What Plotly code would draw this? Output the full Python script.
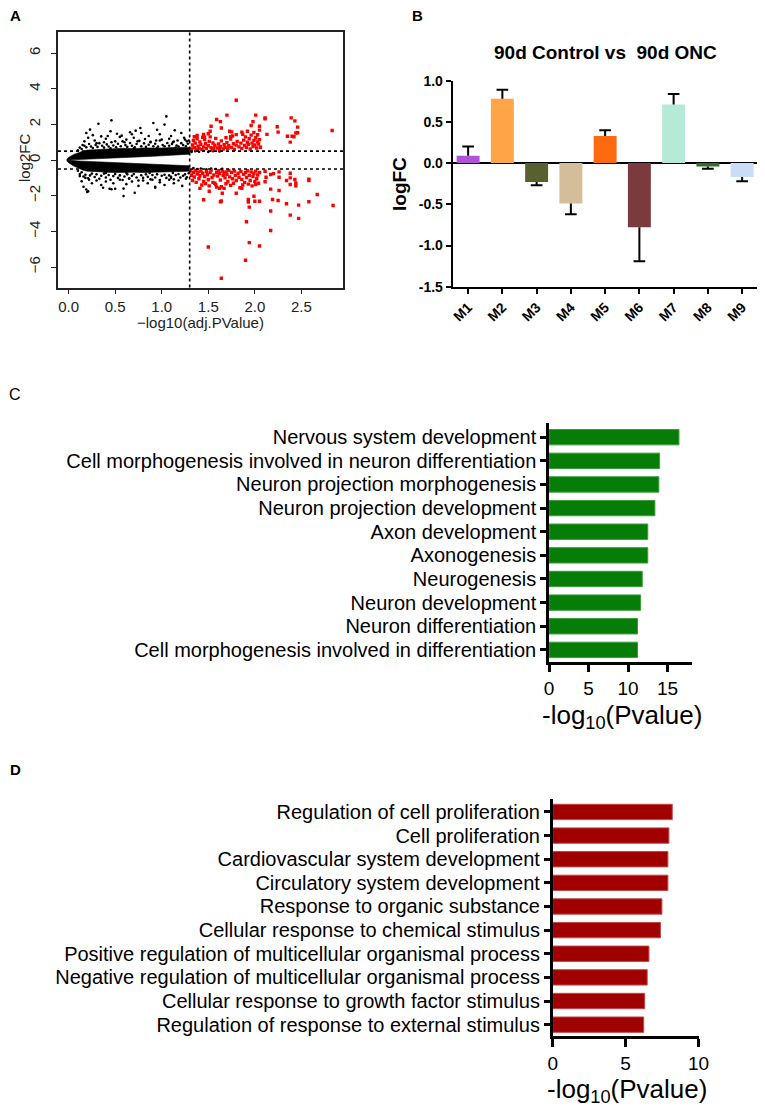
import plotly.graph_objects as go

W, H = 765, 1110
OFF = 8  # the page body keeps its default 8px margin

# ---------------- panel A : volcano plot ----------------
# dense core of the cloud (edges), x = -log10(adj.P)
core_x = [-0.02, 0.00, 0.05, 0.10, 0.15, 0.20, 0.30, 0.40, 0.50, 0.60, 0.70, 0.80, 0.90, 1.00, 1.10, 1.20, 1.30]
core_up_outer = [0.04, 0.15, 0.30, 0.42, 0.50, 0.56, 0.60, 0.62, 0.64, 0.66, 0.64, 0.68, 0.66, 0.68, 0.70, 0.70, 0.70]
core_up_inner = [0.00, 0.00, 0.03, 0.05, 0.06, 0.07, 0.09, 0.11, 0.13, 0.15, 0.17, 0.19, 0.21, 0.23, 0.26, 0.29, 0.33]
core_lo_inner = [0.00, 0.00, -0.03, -0.05, -0.06, -0.07, -0.09, -0.10, -0.12, -0.14, -0.16, -0.18, -0.20, -0.22, -0.25, -0.28, -0.32]
core_lo_outer = [-0.04, -0.15, -0.32, -0.46, -0.56, -0.62, -0.66, -0.68, -0.70, -0.70, -0.68, -0.70, -0.68, -0.68, -0.66, -0.64, -0.62]

# not significant genes outside the dense core
black_pts = [
    (0.10, 0.55), (0.12, 0.70), (0.14, 0.62), (0.17, 0.80), (0.19, 0.72), (0.22, 0.90), (0.24, 0.76),
    (0.26, 0.68), (0.29, 0.85), (0.31, 0.74), (0.33, 0.95), (0.36, 0.80), (0.38, 0.70), (0.41, 0.88),
    (0.43, 0.76), (0.46, 1.00), (0.48, 0.82), (0.51, 0.72), (0.53, 0.92), (0.56, 0.78), (0.58, 1.05),
    (0.61, 0.84), (0.63, 0.74), (0.66, 0.96), (0.68, 0.80), (0.71, 0.72), (0.73, 0.90), (0.76, 1.08),
    (0.78, 0.78), (0.81, 0.94), (0.83, 0.74), (0.86, 0.86), (0.88, 1.02), (0.91, 0.78), (0.93, 0.92),
    (0.96, 0.76), (0.98, 1.10), (1.01, 0.84), (1.03, 0.78), (1.06, 0.96), (1.08, 0.80), (1.11, 0.90),
    (1.13, 1.04), (1.16, 0.82), (1.18, 0.76), (1.21, 0.95), (1.23, 0.84), (1.26, 0.78), (1.28, 0.92),
    (1.29, 1.10), (1.25, 1.15), (0.45, 0.66), (0.70, 0.66), (0.95, 0.68), (1.15, 0.70),
    (0.10, -0.60), (0.12, -0.78), (0.14, -0.68), (0.16, -0.92), (0.18, -0.82), (0.21, -1.02), (0.23, -0.86),
    (0.25, -0.76), (0.28, -0.95), (0.30, -0.80), (0.33, -1.05), (0.35, -0.88), (0.38, -0.76), (0.40, -0.98),
    (0.43, -0.84), (0.45, -1.10), (0.48, -0.90), (0.50, -0.78), (0.53, -1.00), (0.55, -0.86), (0.58, -1.12),
    (0.60, -0.92), (0.63, -0.80), (0.65, -1.02), (0.68, -0.88), (0.70, -0.78), (0.73, -0.98), (0.75, -1.15),
    (0.78, -0.85), (0.80, -1.00), (0.83, -0.80), (0.85, -0.94), (0.88, -1.08), (0.90, -0.84), (0.93, -0.98),
    (0.95, -0.80), (0.98, -1.12), (1.00, -0.88), (1.03, -0.82), (1.05, -1.00), (1.08, -0.86), (1.10, -0.94),
    (1.13, -1.08), (1.15, -0.84), (1.18, -0.78), (1.20, -0.98), (1.23, -0.88), (1.25, -0.80), (1.27, -0.96),
    (1.29, -0.74), (0.40, -0.72), (0.62, -0.72), (0.87, -0.72), (1.12, -0.72),
    # sparse outliers
    (0.19, 1.52), (0.23, 1.71), (0.32, 2.04), (0.46, 2.23), (0.35, 1.33), (0.21, 1.25), (0.26, 1.40),
    (0.28, 1.10), (0.40, 1.20), (0.45, 1.62), (0.50, 1.05), (0.55, 1.30), (0.57, 1.37), (0.62, 1.15),
    (0.66, 1.56), (0.70, 1.25), (0.74, 1.05), (0.77, 1.80), (0.78, 1.52), (0.82, 1.18), (0.86, 1.35),
    (0.91, 2.08), (0.94, 1.10), (0.98, 1.45), (1.03, 1.99), (1.05, 2.45), (1.08, 1.20), (1.10, 1.35),
    (1.14, 1.67), (1.17, 1.10), (1.21, 1.52), (1.24, 1.25), (1.27, 1.05), (1.12, 1.00), (0.60, 1.00),
    (0.38, 1.00), (0.30, 0.95), (0.17, 1.05), (0.15, 0.85), (0.88, 1.00), (1.00, 1.15), (0.68, 1.45),
    (0.52, 1.48), (0.42, 1.35), (0.95, 1.70), (0.72, 1.65),
    (0.14, -1.19), (0.16, -1.50), (0.19, -1.65), (0.21, -1.75), (0.20, -1.79), (0.44, -1.61), (0.46, -1.64),
    (0.50, -1.61), (0.59, -2.02), (0.59, -1.60), (0.71, -1.83), (0.93, -1.50), (0.93, -1.55), (0.25, -1.30),
    (0.30, -1.15), (0.35, -1.40), (0.40, -1.20), (0.48, -1.30), (0.55, -1.10), (0.62, -1.35), (0.68, -1.20),
    (0.75, -1.45), (0.80, -1.15), (0.85, -1.30), (0.90, -1.10), (0.98, -1.25), (1.03, -1.40), (1.08, -1.10),
    (1.13, -1.30), (1.18, -1.15), (1.22, -1.45), (1.26, -1.05), (0.18, -1.00), (0.22, -1.10), (0.12, -0.90),
    (0.65, -1.05), (1.10, -1.00), (0.37, -1.55),
    # significant p but small fold change, hugging the dotted lines
    (1.32, 0.45), (1.36, 0.50), (1.40, 0.47), (1.45, 0.52), (1.50, 0.46), (1.55, 0.50), (1.62, 0.48),
    (1.34, -0.45), (1.38, -0.50), (1.42, -0.47), (1.48, -0.52), (1.53, -0.48), (1.58, -0.50), (1.65, -0.49),
]

# differentially expressed genes
red_pts = [
    (1.80, 3.36), (1.70, 2.52), (1.59, 2.28), (1.63, 2.16), (2.01, 2.52), (2.11, 2.37), (2.39, 2.37),
    (2.43, 2.20), (2.24, 1.87), (2.25, 1.57), (2.46, 1.85), (2.46, 1.53), (2.35, 1.34), (2.40, 1.34),
    (2.42, 1.31), (2.38, 1.01), (2.83, 1.66), (2.13, 1.44), (1.98, 2.16), (1.96, 1.94), (2.05, 1.90),
    (2.05, 1.68), (1.92, 1.62), (1.86, 1.57), (1.73, 1.62), (1.74, 1.31), (1.53, 1.90), (1.45, 1.44),
    (1.38, 1.38), (1.35, 1.31), (1.52, 1.62), (1.64, 1.80), (1.50, 1.48), (1.46, 1.28), (1.75, 1.58),
    (1.80, 1.43), (2.11, 2.32), (2.44, 1.52),
    (1.32, 0.62), (1.33, 0.85), (1.34, 1.10), (1.35, 0.70), (1.36, 0.95), (1.37, 0.58), (1.38, 1.20),
    (1.39, 0.78), (1.40, 0.66), (1.41, 1.02), (1.42, 0.88), (1.43, 0.60), (1.45, 0.74), (1.46, 1.15),
    (1.47, 0.92), (1.48, 0.64), (1.50, 0.80), (1.51, 1.05), (1.53, 0.70), (1.54, 0.58), (1.55, 0.96),
    (1.57, 0.83), (1.58, 1.22), (1.60, 0.68), (1.61, 0.90), (1.63, 0.76), (1.64, 1.08), (1.66, 0.62),
    (1.67, 0.86), (1.68, 0.72), (1.70, 0.98), (1.71, 0.66), (1.72, 0.80), (1.74, 1.18), (1.75, 0.70),
    (1.77, 0.92), (1.78, 0.60), (1.80, 0.84), (1.81, 1.05), (1.83, 0.74), (1.85, 0.95), (1.86, 0.64),
    (1.88, 1.12), (1.89, 0.82), (1.90, 1.30), (1.91, 0.70), (1.92, 1.00), (1.93, 0.88), (1.94, 1.20),
    (1.95, 0.62), (1.96, 1.40), (1.97, 0.95), (1.98, 0.76), (1.99, 1.10), (2.00, 0.85), (2.01, 1.25),
    (2.02, 0.68), (2.03, 1.02), (2.04, 0.90), (2.05, 1.15), (2.06, 0.72), (1.62, 0.58), (1.44, 1.28),
    (1.52, 1.30), (1.69, 1.25), (1.76, 1.35), (1.87, 1.45), (1.99, 1.55), (2.03, 1.42), (1.56, 0.64),
    (1.31, -0.60), (1.32, -0.85), (1.33, -1.15), (1.34, -0.70), (1.35, -0.95), (1.36, -0.58), (1.37, -1.25),
    (1.38, -0.78), (1.39, -0.66), (1.40, -1.05), (1.41, -0.88), (1.42, -0.62), (1.44, -0.74), (1.45, -1.20),
    (1.46, -0.92), (1.48, -0.64), (1.49, -0.82), (1.50, -1.10), (1.52, -0.70), (1.53, -0.58), (1.54, -0.98),
    (1.56, -0.84), (1.57, -1.30), (1.59, -0.68), (1.60, -0.90), (1.61, -0.60), (1.62, -0.76), (1.63, -1.12),
    (1.65, -0.62), (1.66, -0.86), (1.67, -0.72), (1.68, -1.00), (1.69, -0.66), (1.70, -0.80), (1.71, -1.22),
    (1.72, -0.58), (1.73, -0.94), (1.75, -0.70), (1.76, -1.05), (1.78, -0.62), (1.79, -0.86), (1.80, -1.15),
    (1.82, -0.74), (1.83, -0.96), (1.85, -0.64), (1.86, -1.08), (1.88, -0.80), (1.89, -1.25), (1.90, -0.70),
    (1.91, -0.98), (1.92, -0.60), (1.93, -1.35), (1.94, -0.86), (1.95, -1.15), (1.96, -0.66), (1.97, -1.45),
    (1.98, -0.92), (1.99, -0.74), (2.00, -1.20), (2.01, -0.62), (2.02, -1.05), (2.03, -0.84), (2.04, -1.30),
    (2.05, -0.70), (1.43, -1.40), (1.51, -1.45), (1.58, -1.38), (1.64, -1.50), (1.74, -1.42), (1.84, -1.55),
    (1.55, -1.25), (1.47, -1.32), (1.77, -1.30), (1.87, -1.40), (1.69, -1.33),
    (1.41, -1.59), (1.51, -1.75), (1.45, -2.23), (1.59, -1.52), (1.62, -1.59), (1.67, -1.59), (1.65, -1.86),
    (1.63, -2.34), (1.64, -2.30), (1.80, -1.86), (1.86, -1.59), (1.93, -2.21), (1.93, -2.36), (1.94, -2.64),
    (1.99, -2.03), (2.00, -2.31), (2.05, -2.31), (2.01, -1.37), (1.91, -3.46), (1.94, -4.63), (2.05, -4.82),
    (1.90, -5.62), (1.50, -4.88), (1.64, -6.63),
    (2.17, -3.95), (2.17, -2.86), (2.38, -3.09), (2.47, -3.27), (2.34, -2.45), (2.47, -2.53), (2.58, -2.34),
    (2.67, -1.93), (2.84, -2.55), (2.25, -2.27), (2.19, -2.21), (2.26, -1.71), (2.17, -1.63), (2.58, -1.07),
    (2.58, -1.15), (2.38, -0.74), (2.38, -1.00), (2.43, -1.09), (2.44, -1.28), (2.44, -1.44), (2.38, -1.37),
    (2.34, -1.15), (2.26, -0.96), (2.26, -0.66), (2.17, -0.81), (2.12, -0.96), (2.11, -1.22), (2.11, -0.63),
    (2.20, -0.76),
]

# ---------------- panel B : module logFC ----------------
modules = ["M1", "M2", "M3", "M4", "M5", "M6", "M7", "M8", "M9"]
logfc = [0.09, 0.78, -0.23, -0.49, 0.33, -0.78, 0.71, -0.04, -0.17]
logfc_err = [0.11, 0.11, 0.04, 0.13, 0.07, 0.41, 0.13, 0.03, 0.05]
module_colors = ["#B052D8", "#FFA447", "#59602F", "#D4BE99", "#FF6A10",
                 "#7B3B3E", "#B5EAD6", "#2F6F2A", "#C9DDF7"]

# ---------------- panel C / D : GO enrichment ----------------
go_up_terms = [
    "Nervous system development",
    "Cell morphogenesis involved in neuron differentiation",
    "Neuron projection morphogenesis",
    "Neuron projection development",
    "Axon development",
    "Axonogenesis",
    "Neurogenesis",
    "Neuron development",
    "Neuron differentiation",
    "Cell morphogenesis involved in differentiation",
]
go_up_logp = [16.45, 14.0, 13.9, 13.4, 12.5, 12.5, 11.8, 11.6, 11.2, 11.2]

go_down_terms = [
    "Regulation of cell proliferation",
    "Cell proliferation",
    "Cardiovascular system development",
    "Circulatory system development",
    "Response to organic substance",
    "Cellular response to chemical stimulus",
    "Positive regulation of multicellular organismal process",
    "Negative regulation of multicellular organismal process",
    "Cellular response to growth factor stimulus",
    "Regulation of response to external stimulus",
]
go_down_logp = [8.2, 7.97, 7.9, 7.9, 7.49, 7.39, 6.6, 6.48, 6.31, 6.24]


# page pixels -> paper fractions
def xd(a, b):
    return [(a - OFF) / W, (b - OFF) / W]


def yd(top, bottom):
    return [1 - (bottom - OFF) / H, 1 - (top - OFF) / H]


def px(x, y):
    return dict(x=(x - OFF) / W, y=1 - (y - OFF) / H, xref="paper", yref="paper")


FONT = "Arial, Liberation Sans, sans-serif"
fig = go.Figure()

# ---- A ----
fig.add_trace(go.Scatter(x=core_x + core_x[::-1], y=core_up_outer + core_up_inner[::-1],
                         fill="toself", fillcolor="black", mode="lines", line=dict(width=0.6, color="black"),
                         xaxis="x", yaxis="y", hoverinfo="skip"))
fig.add_trace(go.Scatter(x=core_x + core_x[::-1], y=core_lo_inner + core_lo_outer[::-1],
                         fill="toself", fillcolor="black", mode="lines", line=dict(width=0.6, color="black"),
                         xaxis="x", yaxis="y", hoverinfo="skip"))
fig.add_trace(go.Scatter(x=[p[0] for p in black_pts], y=[p[1] for p in black_pts], mode="markers",
                         marker=dict(size=2.6, color="black"), xaxis="x", yaxis="y"))
fig.add_trace(go.Scatter(x=[p[0] for p in red_pts], y=[p[1] for p in red_pts], mode="markers",
                         marker=dict(size=3.4, color="red", symbol="square"), xaxis="x", yaxis="y"))

# ---- B ----
xpos = list(range(len(modules)))
fig.add_trace(go.Bar(x=xpos, y=logfc, marker=dict(color=module_colors, line=dict(width=0)),
                     width=0.67, xaxis="x2", yaxis="y2"))
ex, ey = [], []
for i, (v, e) in enumerate(zip(logfc, logfc_err)):
    tip = v + e if v >= 0 else v - e
    ex += [i, i, None, i - 0.17, i + 0.17, None]
    ey += [v, tip, None, tip, tip, None]
fig.add_trace(go.Scatter(x=ex, y=ey, mode="lines", line=dict(color="black", width=2),
                         xaxis="x2", yaxis="y2", hoverinfo="skip"))

# ---- C ----
fig.add_trace(go.Bar(y=list(range(len(go_up_terms))), x=go_up_logp, orientation="h",
                     marker=dict(color="#067D06", line=dict(width=1, color="#3c9a3c")),
                     width=0.65, xaxis="x3", yaxis="y3"))
# ---- D ----
fig.add_trace(go.Bar(y=list(range(len(go_down_terms))), x=go_down_logp, orientation="h",
                     marker=dict(color="#A00000", line=dict(width=1, color="#c04848")),
                     width=0.65, xaxis="x4", yaxis="y4"))

tickA = dict(family=FONT, size=15, color="#222")
axA = dict(showline=True, mirror=True, linecolor="#222", linewidth=1.5, ticks="outside",
           ticklen=5, tickcolor="#222", showgrid=False, zeroline=False, tickfont=tickA,
           automargin=False)
axB = dict(showline=True, linecolor="black", linewidth=2, ticks="outside", ticklen=5,
           tickcolor="black", tickwidth=2, showgrid=False, automargin=False,
           tickfont=dict(family=FONT, size=14, color="black", weight="bold"))
axGO = dict(showline=True, linecolor="black", linewidth=2.5, ticks="outside", tickcolor="black",
            tickwidth=2.5, showgrid=False, zeroline=False, automargin=False)

fig.update_layout(
    template="none",
    width=W, height=H, autosize=False, showlegend=False,
    margin=dict(l=0, r=0, t=0, b=0, autoexpand=False),
    paper_bgcolor="white", plot_bgcolor="white",
    font=dict(family=FONT, color="black"),
    xaxis=dict(axA, domain=xd(58, 343.3), range=[-0.114, 2.95], anchor="y",
               tickvals=[0, 0.5, 1, 1.5, 2, 2.5], tickformat=".1f"),
    yaxis=dict(axA, domain=yd(32.3, 287.5), range=[-7.15, 7.17], anchor="x",
               tickvals=[-6, -4, -2, 0, 2, 4, 6], tickangle=-90, ticklabelstandoff=5),
    xaxis2=dict(axB, domain=xd(452.7, 762), range=[-0.45, 8.58], anchor="y2",
                tickvals=xpos, ticktext=modules, tickangle=-45, zeroline=False),
    yaxis2=dict(axB, domain=yd(80.7, 286.7), range=[-1.5, 1.0], anchor="x2",
                tickvals=[-1.5, -1.0, -0.5, 0, 0.5, 1.0],
                ticktext=["-1.5", "-1.0", "-0.5", "0.0", "0.5", "1.0"],
                zeroline=True, zerolinecolor="black", zerolinewidth=1.5),
    xaxis3=dict(axGO, domain=xd(549, 692), range=[0, 18.1], anchor="y3", ticklen=8,
                tickvals=[0, 5, 10, 15], tickfont=dict(family=FONT, size=19, color="black")),
    yaxis3=dict(axGO, domain=yd(423, 661.7), range=[9.5, -0.6], anchor="x3", ticklen=6,
                tickvals=list(range(len(go_up_terms))), ticktext=go_up_terms,
                tickfont=dict(family=FONT, size=20, color="black")),
    xaxis4=dict(axGO, domain=xd(552.7, 698.5), range=[0, 10], anchor="y4", ticklen=8,
                tickvals=[0, 5, 10], tickfont=dict(family=FONT, size=19, color="black")),
    yaxis4=dict(axGO, domain=yd(798.7, 1036), range=[9.48, -0.56], anchor="x4", ticklen=6,
                tickvals=list(range(len(go_down_terms))), ticktext=go_down_terms,
                tickfont=dict(family=FONT, size=20, color="black")),
)

# dotted threshold lines of the volcano plot
dot = dict(color="black", width=1.6, dash="dot")
fig.add_shape(type="line", xref="x", yref="y domain", x0=1.3, x1=1.3, y0=0, y1=1, line=dot)
for h in (0.5, -0.5):
    fig.add_shape(type="line", xref="x domain", yref="y", x0=0, x1=1, y0=h, y1=h, line=dot)

ann = [
    dict(px(16, 15), text="<b>A</b>", font=dict(size=15)),
    dict(px(417, 15), text="<b>B</b>", font=dict(size=15)),
    dict(px(15, 394), text="C", font=dict(size=16)),
    dict(px(15, 769), text="<b>D</b>", font=dict(size=15)),
    dict(px(25, 158), text="log2FC", textangle=-90, font=dict(size=15, color="#222")),
    dict(px(200, 322), text="\u2212log10(adj.PValue)", font=dict(size=15, color="#222")),
    dict(px(605, 52), text="<b>90d Control vs  90d ONC</b>", font=dict(size=19)),
    dict(px(400, 184), text="<b>logFC</b>", textangle=-90, font=dict(size=19)),
    dict(px(622, 716), text="-log<sub>10</sub>(Pvalue)", font=dict(size=26)),
    dict(px(627, 1090), text="-log<sub>10</sub>(Pvalue)", font=dict(size=26)),
]
for a in ann:
    a.setdefault("showarrow", False)
    a["xanchor"] = "center"
    a["yanchor"] = "middle"
    a["font"] = dict(family=FONT, color=a["font"].get("color", "black"), size=a["font"]["size"])
    fig.add_annotation(**a)

fig.write_html("out.html")
